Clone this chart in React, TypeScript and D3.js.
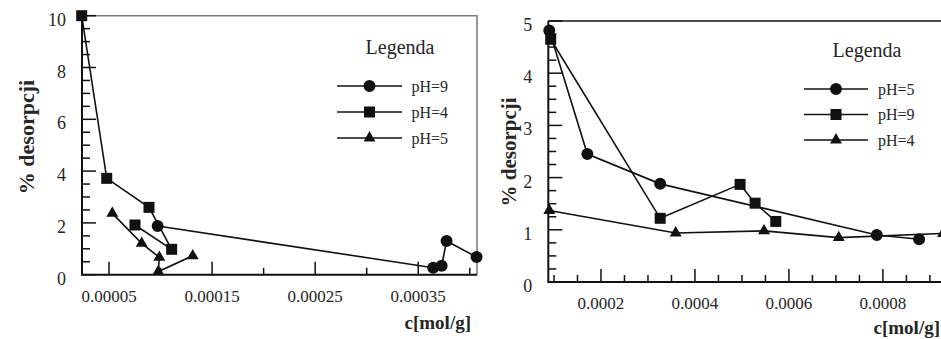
import React, { useEffect, useRef } from "react"
import * as d3 from "d3"

// left panel data
const leftPH9X = [0.0000972, 0.0003645, 0.0003727, 0.0003775, 0.0004066]
const leftPH9Y = [1.88, 0.27, 0.35, 1.3, 0.68]
const leftPH4X = [0.0000235, 0.0000478, 0.0000888, 0.0001108, 0.0000752]
const leftPH4Y = [10, 3.72, 2.6, 0.98, 1.92]
const leftPH5X = [0.0000532, 0.0000817, 0.0000988, 0.0000978, 0.0001312]
const leftPH5Y = [2.37, 1.21, 0.67, 0.12, 0.73]
const leftNames = ["pH=9", "pH=4", "pH=5"]
const leftXTicks = ["0.00005", "0.00015", "0.00025", "0.00035"]
const leftYTicks = ["0", "2", "4", "6", "8", "10"]

// right panel data
const rightPH5X = [0.00009, 0.000171, 0.000326, 0.000787, 0.000877]
const rightPH5Y = [4.82, 2.45, 1.88, 0.9, 0.82]
const rightPH9X = [0.000093, 0.000326, 0.000496, 0.000528, 0.000572]
const rightPH9Y = [4.65, 1.22, 1.87, 1.51, 1.16]
const rightPH4X = [0.00009, 0.000359, 0.000547, 0.000706, 0.000928]
const rightPH4Y = [1.37, 0.94, 0.98, 0.85, 0.93]
const rightNames = ["pH=5", "pH=9", "pH=4"]
const rightXTicks = ["0.0002", "0.0004", "0.0006", "0.0008"]
const rightYTicks = ["0", "1", "2", "3", "4", "5"]

const FONT = "Liberation Serif, Times New Roman, Tinos, DejaVu Serif, serif"
const TEXT = "#262626"

type Series = { xs: number[]; ys: number[]; shape: d3.SymbolType; size: number }

interface PanelCfg {
    left: number
    right: number
    top: number
    bottom: number
    xDomain: [number, number]
    yDomain: [number, number]
    xMinorStep: number
    yMinorStep: number
    xTicks: string[]
    yTicks: string[]
    frameColor: string
    yTitleX: number
    yTitleY: number
    yTitleSize: number
    xTitleX: number
    xTitleY: number
    legendX: number
    legendTitleY: number
    legendRows: number[]
    legendLine: [number, number]
    legendLabelX: number
    names: string[]
}

const drawPanel = (svg: d3.Selection<SVGSVGElement, unknown, null, undefined>, cfg: PanelCfg, series: Series[]) => {
    const g = svg.append("g")
    const x = d3.scaleLinear().domain(cfg.xDomain).range([cfg.left, cfg.right])
    const y = d3.scaleLinear().domain(cfg.yDomain).range([cfg.bottom, cfg.top])

    // top + right frame
    g.append("path")
        .attr("d", `M${cfg.left},${cfg.top}H${cfg.right}V${cfg.bottom}`)
        .attr("fill", "none")
        .attr("stroke", cfg.frameColor)
        .attr("stroke-width", 1.5)

    // y ticks (inward)
    const yMajor = cfg.yTicks.map(Number)
    const yMinor = d3.range(cfg.yDomain[0], cfg.yDomain[1] + 1e-9, cfg.yMinorStep)
        .filter((v) => !yMajor.some((m) => Math.abs(m - v) < 1e-9))
    g.selectAll(".ymin").data(yMinor).enter().append("line")
        .attr("x1", cfg.left).attr("x2", cfg.left + 8)
        .attr("y1", (d) => y(d)).attr("y2", (d) => y(d))
        .attr("stroke", "#111").attr("stroke-width", 1.5)
    g.selectAll(".ymaj").data(yMajor).enter().append("line")
        .attr("x1", cfg.left).attr("x2", cfg.left + 14)
        .attr("y1", (d) => y(d)).attr("y2", (d) => y(d))
        .attr("stroke", "#111").attr("stroke-width", 1.5)
    g.selectAll(".ylab").data(cfg.yTicks).enter().append("text")
        .attr("x", cfg.left - 16)
        .attr("y", (d) => y(+d) + 10)
        .attr("text-anchor", "end")
        .style("font-family", FONT).style("font-size", "18px").attr("fill", TEXT)
        .text((d) => d)

    // x ticks (inward)
    const xMajor = cfg.xTicks.map(Number)
    const firstMinor = Math.ceil(cfg.xDomain[0] / cfg.xMinorStep - 1e-6) * cfg.xMinorStep
    const xMinor = d3.range(firstMinor, cfg.xDomain[1], cfg.xMinorStep)
        .filter((v) => !xMajor.some((m) => Math.abs(m - v) < 1e-9))
    g.selectAll(".xmin").data(xMinor).enter().append("line")
        .attr("x1", (d) => x(d)).attr("x2", (d) => x(d))
        .attr("y1", cfg.bottom).attr("y2", cfg.bottom - 7)
        .attr("stroke", "#111").attr("stroke-width", 1.5)
    g.selectAll(".xmaj").data(xMajor).enter().append("line")
        .attr("x1", (d) => x(d)).attr("x2", (d) => x(d))
        .attr("y1", cfg.bottom).attr("y2", cfg.bottom - 13)
        .attr("stroke", "#111").attr("stroke-width", 1.5)
    g.selectAll(".xlab").data(cfg.xTicks).enter().append("text")
        .attr("x", (d) => x(+d))
        .attr("y", cfg.bottom + 27)
        .attr("text-anchor", "middle")
        .style("font-family", FONT).style("font-size", "17px").attr("fill", TEXT)
        .text((d) => d)

    // left + bottom axis lines
    g.append("path")
        .attr("d", `M${cfg.left},${cfg.top}V${cfg.bottom}H${cfg.right}`)
        .attr("fill", "none")
        .attr("stroke", "#111")
        .attr("stroke-width", 2)

    // axis titles
    g.append("text")
        .attr("transform", `translate(${cfg.yTitleX},${cfg.yTitleY}) rotate(-90)`)
        .attr("text-anchor", "middle")
        .attr("dominant-baseline", "central")
        .style("font-family", FONT).style("font-weight", "bold")
        .style("font-size", `${cfg.yTitleSize}px`).attr("fill", TEXT)
        .text("% desorpcji")
    g.append("text")
        .attr("x", cfg.xTitleX).attr("y", cfg.xTitleY)
        .attr("text-anchor", "end")
        .style("font-family", FONT).style("font-weight", "bold")
        .style("font-size", "19px").attr("fill", TEXT)
        .text("c[mol/g]")

    // series: line then markers
    series.forEach((s) => {
        const pts: [number, number][] = s.xs.map((v, i) => [v, s.ys[i]])
        const line = d3.line<[number, number]>().x((d) => x(d[0])).y((d) => y(d[1]))
        g.append("path")
            .attr("d", line(pts))
            .attr("fill", "none")
            .attr("stroke", "#111")
            .attr("stroke-width", 1.6)
        g.selectAll(null).data(pts).enter().append("path")
            .attr("d", d3.symbol().type(s.shape).size(s.size)())
            .attr("transform", (d) => `translate(${x(d[0])},${y(d[1])})`)
            .attr("fill", "#111")
    })

    // legend
    g.append("text")
        .attr("x", cfg.legendX).attr("y", cfg.legendTitleY)
        .attr("text-anchor", "middle")
        .style("font-family", FONT).style("font-size", "20px").attr("fill", TEXT)
        .text("Legenda")
    cfg.legendRows.forEach((ry, i) => {
        const s = series[i]
        g.append("line")
            .attr("x1", cfg.legendLine[0]).attr("x2", cfg.legendLine[1])
            .attr("y1", ry).attr("y2", ry)
            .attr("stroke", "#111").attr("stroke-width", 1.6)
        g.append("path")
            .attr("d", d3.symbol().type(s.shape).size(s.size)())
            .attr("transform", `translate(${(cfg.legendLine[0] + cfg.legendLine[1]) / 2},${ry})`)
            .attr("fill", "#111")
        g.append("text")
            .attr("x", cfg.legendLabelX).attr("y", ry + 5.5)
            .style("font-family", FONT).style("font-size", "16px").attr("fill", TEXT)
            .text(cfg.names[i])
    })
}

export default function App() {
    const ref = useRef<SVGSVGElement>(null)

    useEffect(() => {
        const svg = d3.select(ref.current!)
        svg.selectAll("*").remove()

        drawPanel(svg, {
            left: 82, right: 477, top: 15.7, bottom: 274.7,
            xDomain: [0.0000238, 0.000407], yDomain: [0, 10],
            xMinorStep: 0.00005, yMinorStep: 0.5,
            xTicks: leftXTicks, yTicks: leftYTicks,
            frameColor: "#7a7a7a",
            yTitleX: 26, yTitleY: 137, yTitleSize: 22,
            xTitleX: 471, xTitleY: 329,
            legendX: 400, legendTitleY: 54,
            legendRows: [86, 112, 138], legendLine: [337, 402], legendLabelX: 411.5,
            names: leftNames,
        }, [
            { xs: leftPH9X, ys: leftPH9Y, shape: d3.symbolCircle, size: 113 },
            { xs: leftPH4X, ys: leftPH4Y, shape: d3.symbolSquare, size: 121 },
            { xs: leftPH5X, ys: leftPH5Y, shape: d3.symbolTriangle, size: 62 },
        ])

        drawPanel(svg, {
            left: 548.3, right: 944, top: 21, bottom: 282,
            xDomain: [0.0000879, 0.000930], yDomain: [0, 5],
            xMinorStep: 0.00005, yMinorStep: 0.25,
            xTicks: rightXTicks, yTicks: rightYTicks,
            frameColor: "#111",
            yTitleX: 509, yTitleY: 152, yTitleSize: 21,
            xTitleX: 940, xTitleY: 334,
            legendX: 867, legendTitleY: 57,
            legendRows: [89, 114.5, 140], legendLine: [804, 868], legendLabelX: 878,
            names: rightNames,
        }, [
            { xs: rightPH5X, ys: rightPH5Y, shape: d3.symbolCircle, size: 113 },
            { xs: rightPH9X, ys: rightPH9Y, shape: d3.symbolSquare, size: 121 },
            { xs: rightPH4X, ys: rightPH4Y, shape: d3.symbolTriangle, size: 62 },
        ])
    }, [])

    return (
        <svg
            ref={ref}
            width={941}
            height={339}
            style={{ position: "fixed", left: 0, top: 0, background: "#fff" }}
        />
    )
}
